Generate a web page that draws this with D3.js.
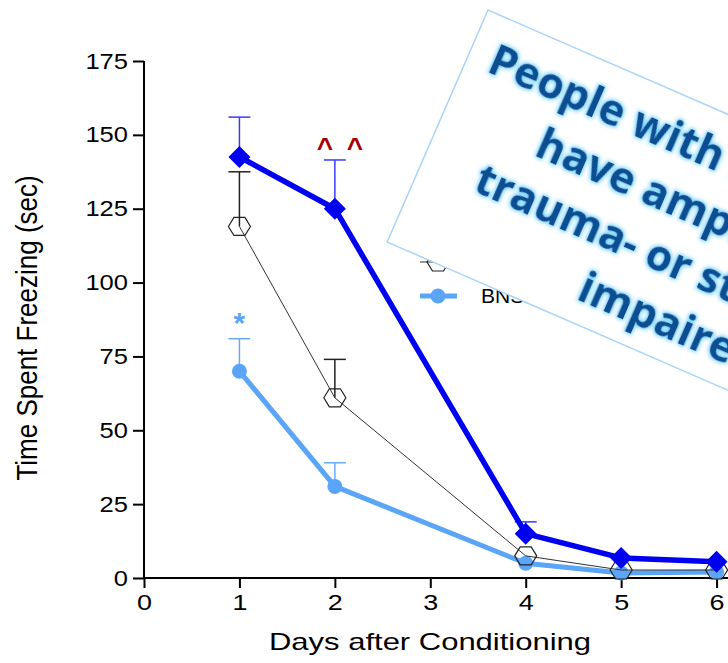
<!DOCTYPE html>
<html>
<head>
<meta charset="utf-8">
<script src="https://cdn.jsdelivr.net/npm/d3@7"></script>
<style>
  body { margin: 0; background: #fff; }
  svg { display: block; font-family: "Liberation Sans", Arial, sans-serif; }
</style>
</head>
<body>
<svg id="chart" width="728" height="663"></svg>
<script>
let days = [1, 2, 4, 5, 6]
let xTicks = [0, 1, 2, 3, 4, 5, 6, 7]
let yTicks = [0, 25, 50, 75, 100, 125, 150, 175]

// dark blue diamonds
let blaMean = [142.5, 125, 15, 6.8, 5.5]
let blaSem = [13.5, 16.5, 4, 0, 0]
// open hexagons
let shamMean = [119, 61, 7.5, 2.7, 2.7]
let shamSem = [18.5, 13, 0, 0, 0]
// light blue circles
let bnstMean = [70, 31, 5, 1.7, 2]
let bnstSem = [11, 8, 0, 0, 0]

let legendNames = ['BLA', 'Sham', 'BNST']
let boxLines = ['People with PTSD', 'have amplified fear responses', 'trauma- or stress-related cues', 'impaired extinction']

let svg = d3.select('#chart')
let x = d3.scaleLinear().domain([0, 7]).range([144, 812])
let y = d3.scaleLinear().domain([0, 175]).range([578, 61])

let blue = '#0000f0', light = '#5aa5f7'

// axes
let gx = svg.append('g').attr('transform', 'translate(0,578)')
    .call(d3.axisBottom(x).tickValues(xTicks).tickFormat(d3.format('d')).tickSize(10).tickSizeOuter(0).tickPadding(6))
let gy = svg.append('g').attr('transform', 'translate(144,0)')
    .call(d3.axisLeft(y).tickValues(yTicks).tickSize(11).tickSizeOuter(0).tickPadding(5))
svg.selectAll('.domain, .tick line').attr('stroke', '#000').attr('stroke-width', 2)
gx.selectAll('text').attr('font-size', 22).attr('fill', '#000')
    .attr('textLength', 15).attr('lengthAdjust', 'spacingAndGlyphs')
gy.selectAll('text').attr('font-size', 22).attr('fill', '#000')
    .attr('textLength', d => String(d).length * 14.2).attr('lengthAdjust', 'spacingAndGlyphs')
gx.select('path.domain').attr('d', 'M144,0H812')
gy.select('path.domain').attr('d', 'M0,578V61')

svg.append('text')
    .attr('transform', 'translate(37,328) scale(1.12,1) rotate(-90)')
    .attr('text-anchor', 'middle')
    .attr('font-size', 26)
    .text('Time Spent Freezing (sec)')
svg.append('text')
    .attr('x', 430).attr('y', 650)
    .attr('text-anchor', 'middle')
    .attr('font-size', 24)
    .attr('textLength', 322).attr('lengthAdjust', 'spacingAndGlyphs')
    .text('Days after Conditioning')

let line = d3.line().x(d => x(d[0])).y(d => y(d[1]))
let hexPath = 'M-11,0L-5.5,-9L5.5,-9L11,0L5.5,9L-5.5,9Z'
let diamondPath = 'M0,-11L11,0L0,11L-11,0Z'

function drawSeries(mean, sem, color, width, errColor, marker){
    let pts = days.map((d, i) => [d, mean[i], sem[i]])
    let g = svg.append('g')
    g.selectAll('.err')
        .data(pts.filter(p => p[2] > 0))
        .join('g')
        .each(function (p){
            let s = d3.select(this)
            s.append('line')
                .attr('x1', x(p[0])).attr('x2', x(p[0]))
                .attr('y1', y(p[1])).attr('y2', y(p[1] + p[2]))
                .attr('stroke', errColor).attr('stroke-width', 1.5)
            s.append('line')
                .attr('x1', x(p[0]) - 11).attr('x2', x(p[0]) + 11)
                .attr('y1', y(p[1] + p[2])).attr('y2', y(p[1] + p[2]))
                .attr('stroke', errColor).attr('stroke-width', 1.5)
        })
    g.append('path')
        .attr('d', line(pts))
        .attr('fill', 'none')
        .attr('stroke', color)
        .attr('stroke-width', width)
        .attr('stroke-linejoin', 'round')
    g.selectAll('.pt')
        .data(pts)
        .join('g')
        .attr('transform', p => `translate(${x(p[0])},${y(p[1])})`)
        .each(function (){ marker(d3.select(this)) })
}

let circleMark = s => s.append('circle').attr('r', 7.5).attr('fill', light)
let hexMark = s => s.append('path').attr('d', hexPath).attr('fill', 'none').attr('stroke', '#222').attr('stroke-width', 1.2)
let diamondMark = s => s.append('path').attr('d', diamondPath).attr('fill', blue)

drawSeries(bnstMean, bnstSem, light, 5, '#6aaaf5', circleMark)
drawSeries(shamMean, shamSem, '#333', 1, '#222', hexMark)
drawSeries(blaMean, blaSem, blue, 5.5, '#3a3aff', diamondMark)

// significance marks
svg.append('text')
    .attr('x', x(1)).attr('y', 333)
    .attr('text-anchor', 'middle')
    .attr('font-size', 30).attr('font-weight', 'bold')
    .attr('fill', light)
    .text('*')
;[-15, 15].forEach(dx => {
    svg.append('text')
        .attr('x', x(2) + dx + 5).attr('y', 157)
        .attr('text-anchor', 'middle')
        .attr('font-size', 28).attr('font-weight', 'bold')
        .attr('fill', '#a80000')
        .text('^')
})

// legend
let legendMarks = [diamondMark, hexMark, circleMark]
let legendColors = [blue, '#333', light]
let lg = svg.append('g')
legendNames.forEach((name, i) => {
    let ly = 228 + i * 34
    lg.append('line')
        .attr('x1', 420).attr('x2', 457).attr('y1', ly).attr('y2', ly)
        .attr('stroke', legendColors[i]).attr('stroke-width', i === 1 ? 1 : 5)
    legendMarks[i](lg.append('g').attr('transform', `translate(438,${ly})`))
    lg.append('text')
        .attr('x', 481).attr('y', ly + 7)
        .attr('font-size', 21)
        .text(name)
})

// rotated callout box
let defs = svg.append('defs')
let f = defs.append('filter').attr('id', 'glow').attr('x', '-20%').attr('y', '-20%').attr('width', '140%').attr('height', '140%')
f.append('feMorphology').attr('in', 'SourceAlpha').attr('operator', 'dilate').attr('radius', 1.2).attr('result', 'd')
f.append('feGaussianBlur').attr('in', 'd').attr('stdDeviation', 2).attr('result', 'b')
f.append('feFlood').attr('flood-color', '#5ccaff').attr('flood-opacity', 0.9)
f.append('feComposite').attr('in2', 'b').attr('operator', 'in').attr('result', 'g')
let fm = f.append('feMerge')
fm.append('feMergeNode').attr('in', 'g')
fm.append('feMergeNode').attr('in', 'SourceGraphic')

let box = svg.append('g').attr('transform', 'translate(488,10) rotate(23.5)')
box.append('rect')
    .attr('width', 700).attr('height', 253)
    .attr('fill', '#fff')
    .attr('stroke', '#aad4f8').attr('stroke-width', 1.5)
let lineX = [22, 99, 57, 195]
box.selectAll('text.call')
    .data(boxLines)
    .join('text')
    .attr('class', 'call')
    .attr('x', (d, i) => lineX[i])
    .attr('y', (d, i) => 57 + i * 57.5)
    .attr('font-family', '"Open Sans", sans-serif')
    .attr('font-weight', 700)
    .attr('font-size', 43)
    .attr('fill', '#0a4d92')
    .attr('filter', 'url(#glow)')
    .text(d => d)
</script>
</body>
</html>
